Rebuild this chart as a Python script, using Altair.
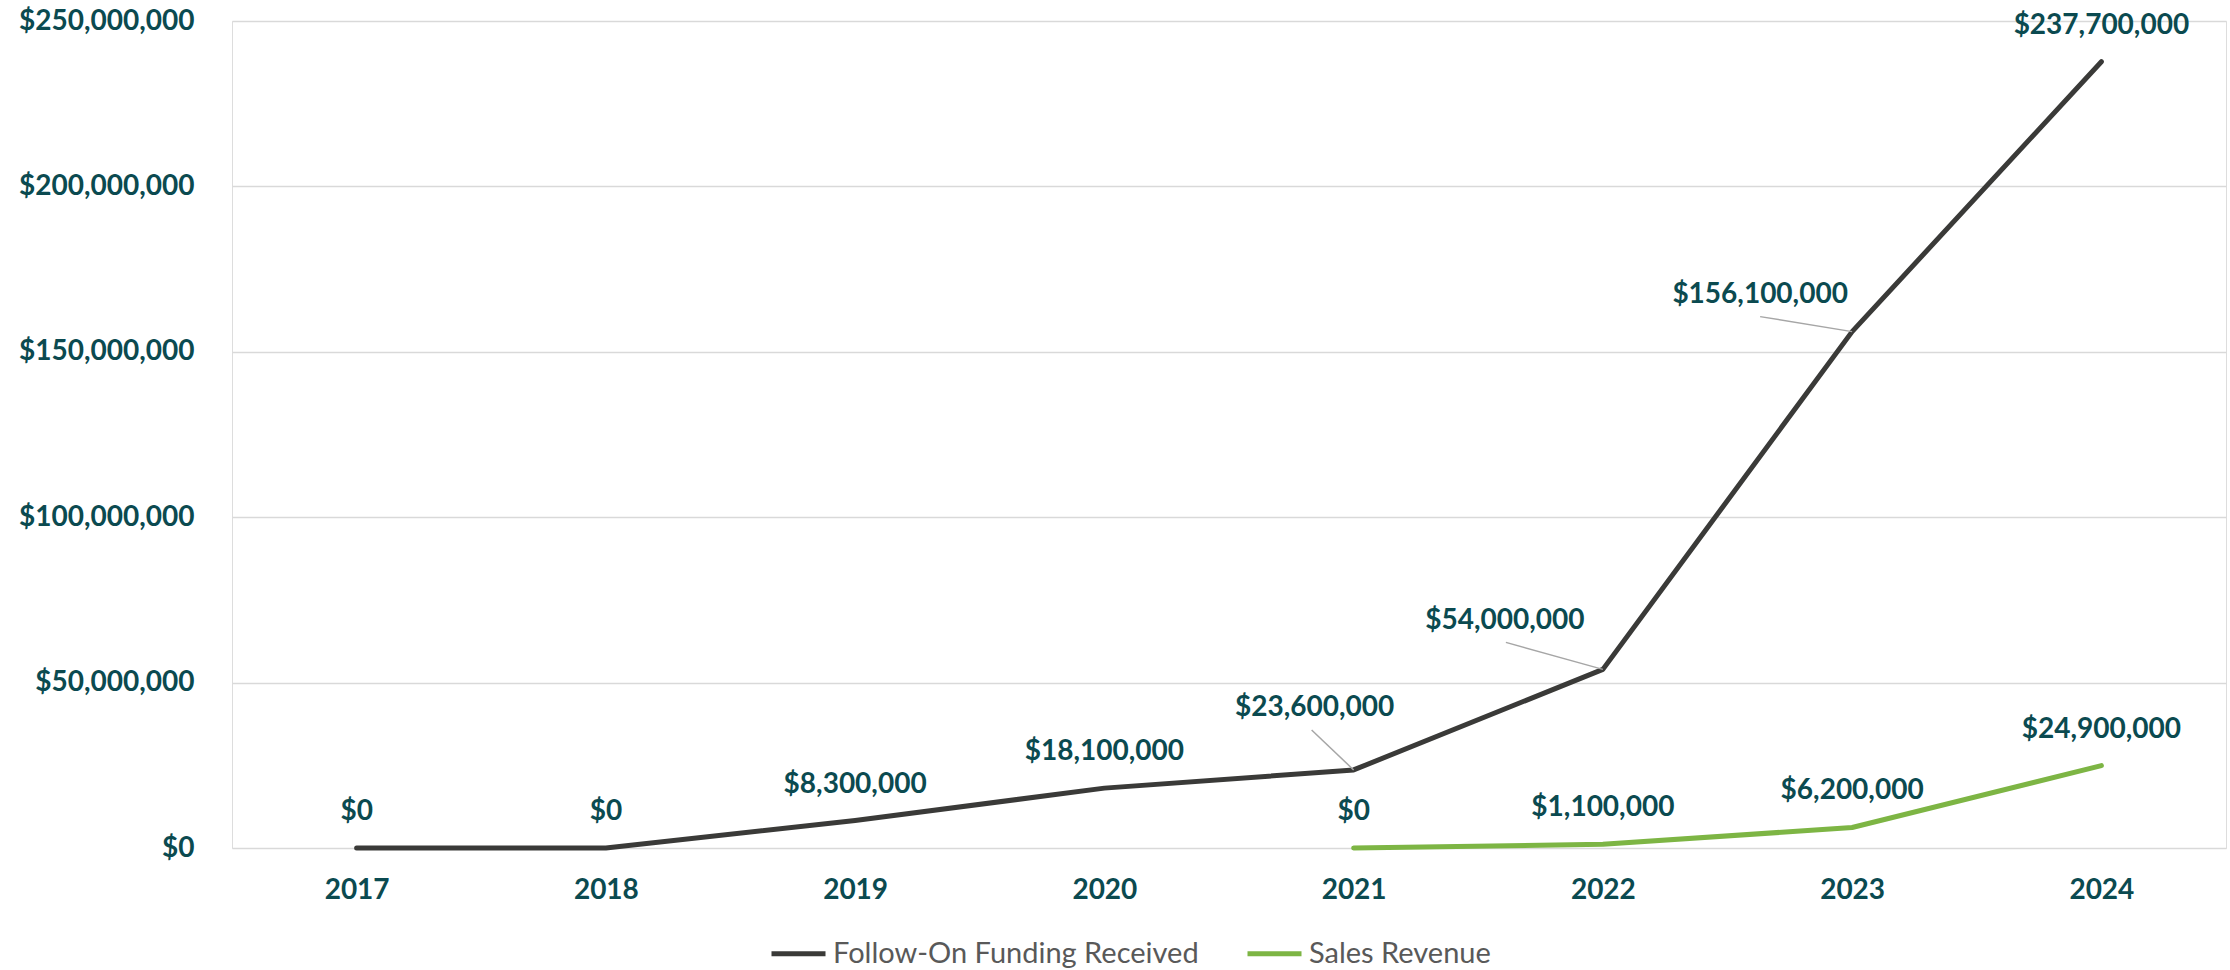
import altair as alt
import pandas as pd

# ---- data ----
years = ["2017", "2018", "2019", "2020", "2021", "2022", "2023", "2024"]
funding = [0, 0, 8300000, 18100000, 23600000, 54000000, 156100000, 237700000]
sales_years = ["2021", "2022", "2023", "2024"]
sales = [0, 1100000, 6200000, 24900000]
series_names = ["Follow-On Funding Received", "Sales Revenue"]
y_ticks = [0, 50000000, 100000000, 150000000, 200000000, 250000000]

# ---- style ----
TEAL = "#0B4A50"
DARK = "#3A3A38"
GREEN = "#7DB544"
GRID = "#D9D9D9"
LEADER = "#A6A6A6"
FONT = "Lato"
FS = 28

rows = [{"year": y, "value": v, "series": series_names[0]} for y, v in zip(years, funding)]
rows += [{"year": y, "value": v, "series": series_names[1]} for y, v in zip(sales_years, sales)]
df = pd.DataFrame(rows)

# labels drawn with leader lines: (series, year) -> (label dx, label dy, leader end dx, leader end dy)
callouts = {
    (series_names[0], "2021"): (-39, -62, -42, -40),
    (series_names[0], "2022"): (-98, -48, -97, -27),
    (series_names[0], "2023"): (-92, -37, -92, -15),
}

x_enc = alt.X("year:O", scale=alt.Scale(type="point", domain=years, padding=0.5),
              axis=alt.Axis(title=None, labelAngle=0, ticks=False, tickSize=0, domain=False,
                            labelPadding=28, labelFont=FONT, labelFontWeight="bold",
                            labelFontSize=FS, labelColor=TEAL, grid=False))
y_enc = alt.Y("value:Q", scale=alt.Scale(domain=[0, 250000000], nice=False),
              axis=alt.Axis(title=None, values=y_ticks, format="$,.0f", ticks=False, tickSize=0,
                            domain=False, labelPadding=38, labelFont=FONT, labelFontWeight="bold",
                            labelFontSize=FS, labelColor=TEAL, grid=True, gridColor=GRID,
                            gridWidth=1.5))

base = alt.Chart(df).encode(x=x_enc, y=y_enc)

lines = base.mark_line(strokeWidth=5, strokeCap="round", strokeJoin="round").encode(
    color=alt.Color("series:N",
                    scale=alt.Scale(domain=series_names, range=[DARK, GREEN]),
                    legend=alt.Legend(title=None, orient="none", direction="horizontal",
                                      legendX=537, legendY=903, symbolType="stroke",
                                      symbolSize=2916, symbolStrokeWidth=5,
                                      labelFont=FONT, labelFontSize=29, labelColor="#595959",
                                      labelLimit=1000, labelOffset=5, columnPadding=38,
                                      padding=0))
)

special_filter = " || ".join(
    f"(datum.series === '{s}' && datum.year === '{y}')" for (s, y) in callouts
)

std_labels = base.transform_filter(f"!({special_filter})").mark_text(
    dy=-36, font=FONT, fontWeight="bold", fontSize=FS, color=TEAL, baseline="middle"
).encode(text=alt.Text("value:Q", format="$,.0f"))

layers = [lines, std_labels]
for (s, y), (ldx, ldy, rdx, rdy) in callouts.items():
    flt = f"datum.series === '{s}' && datum.year === '{y}'"
    layers.append(
        base.transform_filter(flt).mark_rule(color=LEADER, strokeWidth=1.5,
                                              x2Offset=rdx, y2Offset=rdy)
        .encode(x2=alt.X2("year"), y2=alt.Y2("value"))
    )
    layers.append(
        base.transform_filter(flt).mark_text(
            dx=ldx, dy=ldy, font=FONT, fontWeight="bold", fontSize=FS, color=TEAL,
            baseline="middle")
        .encode(text=alt.Text("value:Q", format="$,.0f"))
    )

chart = alt.layer(*layers).properties(
    width=1994, height=827,
    autosize=alt.AutoSizeParams(type="none"),
    padding={"left": 232, "top": 21, "right": 4, "bottom": 122},
).configure_view(stroke=None).configure(background="white")

chart.save("out.html", embed_options={"renderer": "svg", "actions": False})
